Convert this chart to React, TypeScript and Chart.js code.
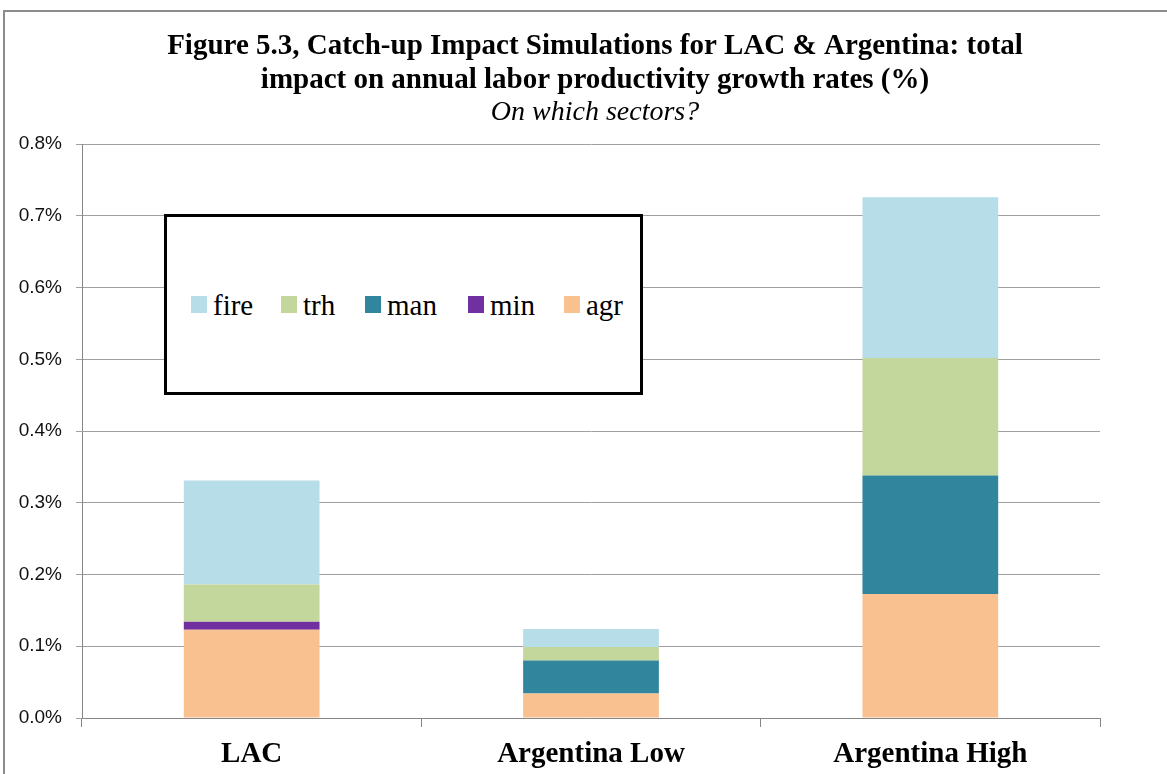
import React, { useEffect, useRef } from "react";
import { Chart, registerables } from "chart.js";

Chart.register(...registerables);

const categories = ["LAC", "Argentina Low", "Argentina High"];
const agr = [0.123, 0.034, 0.173];
const minData = [0.011, 0, 0];
const man = [0, 0.046, 0.165];
const trh = [0.052, 0.019, 0.164];
const fire = [0.145, 0.025, 0.224];
const yTicks = [0, 0.1, 0.2, 0.3, 0.4, 0.5, 0.6, 0.7, 0.8];

const titleLines = [
  "Figure 5.3, Catch-up Impact Simulations for LAC & Argentina: total",
  "impact on annual labor productivity growth rates (%)",
];
const subtitleText = "On which sectors?";

const series = [
  { label: "agr", data: agr, color: "#F9C190" },
  { label: "min", data: minData, color: "#7030A0" },
  { label: "man", data: man, color: "#31859C" },
  { label: "trh", data: trh, color: "#C3D69B" },
  { label: "fire", data: fire, color: "#B7DDE8" },
];

const legendOrder = ["fire", "trh", "man", "min", "agr"];
const legendWidths = [90, 84, 103, 96, 70];

export default function App() {
  const canvasRef = useRef<HTMLCanvasElement | null>(null);

  useEffect(() => {
    const canvas = canvasRef.current;
    if (!canvas) return;
    const chart = new Chart(canvas, {
      type: "bar",
      data: {
        labels: categories,
        datasets: series.map((s) => ({
          label: s.label,
          data: s.data,
          backgroundColor: s.color,
          borderWidth: 0,
          barPercentage: 0.4,
          categoryPercentage: 1,
          yAxisID: "y",
        })),
      },
      options: {
        responsive: false,
        animation: false,
        devicePixelRatio: 1,
        layout: { padding: { left: 0, right: 0, top: 0, bottom: 0 } },
        plugins: {
          legend: { display: false },
          tooltip: { enabled: false },
          title: {
            display: true,
            text: titleLines,
            color: "#000",
            font: { family: "'Liberation Serif', serif", size: 29, weight: "bold", lineHeight: 1.172 },
            padding: { top: 30, bottom: 0 },
          },
          subtitle: {
            display: true,
            text: subtitleText,
            color: "#000",
            font: { family: "'Liberation Serif', serif", size: 28, style: "italic", lineHeight: 1.04 },
            padding: { top: 0, bottom: 17 },
          },
        },
        scales: {
          x: {
            stacked: true,
            offset: true,
            grid: {
              offset: true,
              drawOnChartArea: false,
              drawTicks: true,
              tickLength: 9,
              color: "#868686",
            },
            border: { display: true, color: "#868686", width: 1 },
            ticks: {
              color: "#000",
              padding: 10,
              font: { family: "'Liberation Serif', serif", size: 29, weight: "bold", lineHeight: 1.2 },
            },
            afterFit: (scale: any) => {
              scale.height = 82;
            },
          },
          y: {
            stacked: true,
            min: 0,
            max: 0.8,
            afterBuildTicks: (scale: any) => {
              scale.ticks = yTicks.map((v) => ({ value: v }));
            },
            grid: {
              color: "#A0A0A0",
              tickLength: 6,
              drawTicks: true,
            },
            border: { display: true, color: "#868686", width: 1 },
            ticks: {
              color: "#111",
              padding: 14,
              font: { family: "'Liberation Sans', sans-serif", size: 19 },
              callback: (v: any) => Number(v).toFixed(1) + "%",
            },
            afterFit: (scale: any) => {
              scale.width = 82;
            },
          },
          yRight: {
            position: "right",
            display: true,
            min: 0,
            max: 0.8,
            grid: { display: false, drawTicks: false },
            border: { display: false },
            ticks: { display: false },
            afterFit: (scale: any) => {
              scale.width = 90;
            },
          },
        },
      },
    });
    return () => chart.destroy();
  }, []);

  return (
    <div
      style={{
        position: "fixed",
        left: 0,
        top: 0,
        width: 1167,
        height: 774,
        overflow: "hidden",
        background: "#fff",
      }}
    >
      <div
        style={{
          position: "absolute",
          left: 3,
          top: 10,
          width: 1300,
          height: 900,
          borderLeft: "2px solid #8c8c8c",
          borderTop: "2px solid #8c8c8c",
          boxSizing: "border-box",
        }}
      />
      <canvas
        ref={canvasRef}
        width={1190}
        height={800}
        style={{ position: "absolute", left: 0, top: 0, width: 1190, height: 800 }}
      />
      <div
        style={{
          position: "absolute",
          left: 164,
          top: 214,
          width: 479,
          height: 181,
          boxSizing: "border-box",
          border: "3px solid #000",
          background: "#fff",
          display: "flex",
          alignItems: "center",
          paddingLeft: 24,
          fontFamily: "'Liberation Serif', serif",
          fontSize: 29,
          color: "#000",
        }}
      >
        {legendOrder.map((name, i) => {
          const s = series.find((d) => d.label === name)!;
          return (
            <div
              key={name}
              style={{ display: "flex", alignItems: "center", width: legendWidths[i], flex: "none" }}
            >
              <span
                style={{
                  display: "inline-block",
                  width: 16,
                  height: 17,
                  background: s.color,
                  marginRight: 6,
                  flex: "none",
                }}
              />
              <span style={{ lineHeight: "30px" }}>{name}</span>
            </div>
          );
        })}
      </div>
    </div>
  );
}
